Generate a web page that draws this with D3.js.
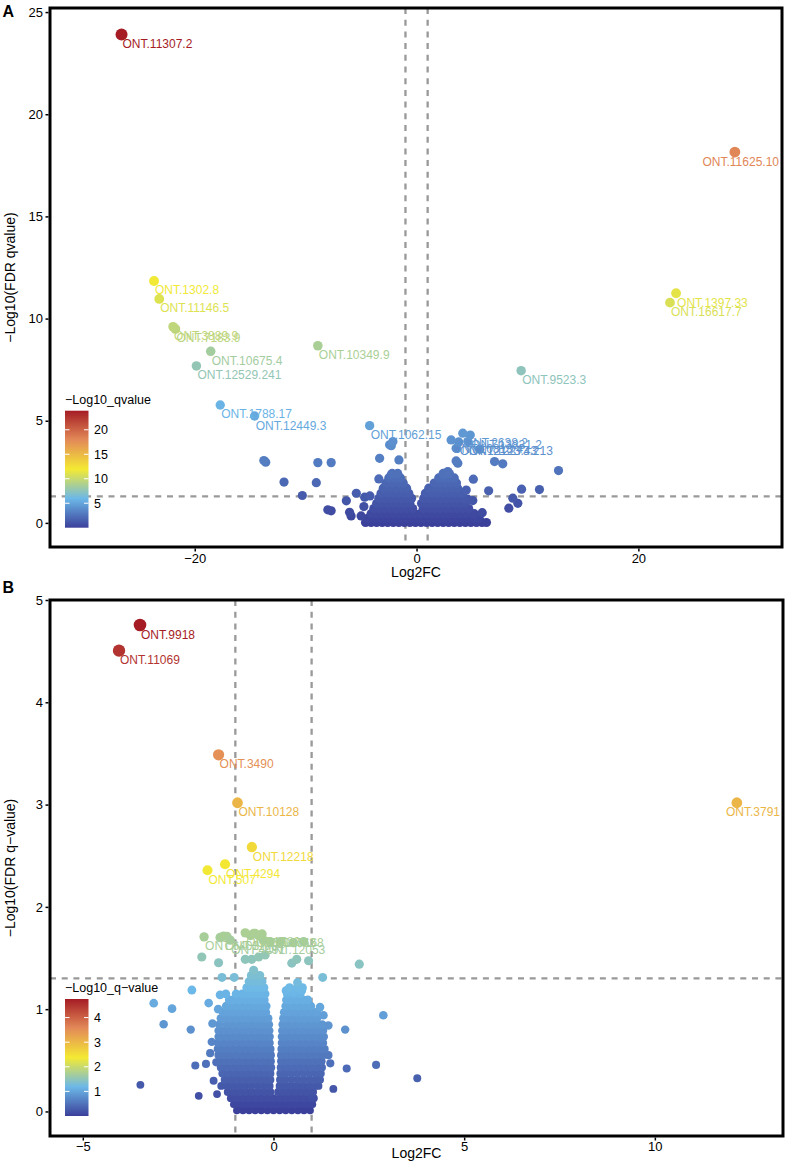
<!DOCTYPE html>
<html><head><meta charset="utf-8">
<script src="https://cdn.jsdelivr.net/npm/d3@7"></script>
<style>body{margin:0;background:#fff} svg text{font-family:"Liberation Sans",Arial,Helvetica,sans-serif}</style>
</head><body><svg id="c" width="787" height="1163"></svg>
<script>
// ---------------- DATA ----------------
// Panel A labelled genes
const aLabelNames = ["ONT.11307.2","ONT.11625.10","ONT.1397.33","ONT.16617.7","ONT.1302.8","ONT.11146.5","ONT.3889.9","ONT.7183.9","ONT.10675.4","ONT.12529.241","ONT.10349.9","ONT.9523.3","ONT.1788.17","ONT.12449.3","ONT.1062.15","ONT.2638.2","ONT.13831.2","ONT.10813.4","ONT.12123.43","ONT.12273.213"];
const aLabelX = [-26.6,28.7,23.4,22.85,-23.67,-23.2,-21.95,-21.74,-18.56,-19.85,-8.9,9.43,-17.7,-14.6,-4.23,4.17,4.84,3.12,3.8,4.62];
const aLabelY = [23.9,18.15,11.24,10.78,11.84,10.96,9.6,9.49,8.4,7.68,8.67,7.45,5.77,5.23,4.76,4.39,4.3,4.06,3.96,3.98];
// Panel A scattered unlabelled genes [log2FC, -log10 q]
const aPoints = [[-13.77,3.05],[-13.6,2.97],[-8.9,2.95],[-7.7,2.95],[-11.95,2.0],[-9.04,1.97],[-10.3,1.34],[-8.0,0.64],[-7.7,0.59],[-6.33,1.08],[-5.43,1.45],[-6.04,0.52],[-5.9,0.34],[-5.0,0.34],[-4.68,1.26],[-4.2,1.32],[-4.75,0.8],[-3.33,3.16],[-3.4,2.15],[-2.28,3.78],[-2.13,3.98],[-2.28,2.35],[-2.43,3.82],[-1.59,3.08],
 [3.57,3.65],[3.57,3.03],[3.72,2.92],[7.03,3.0],[7.77,2.89],[12.8,2.56],[11.08,1.63],[9.47,1.65],[5.12,2.14],[6.5,1.57],[8.68,1.21],[9.13,0.96],[8.32,0.72],[5.92,0.5],[5.38,0.28],[4.48,1.61],[4.62,1.16],[5.07,1.09],[4.17,1.45],[2.82,2.51],[2.52,2.35],[2.97,2.4],[5.68,3.6]];
// Panel A dense cloud, rows of [-log10 q, [log2FC ...]]
const aCloudRows = [
 [0.02,[-4.6,-4.1,-3.6,-3.1,-2.6,-2.1,-1.6,-1.1,-0.6,-0.1,0.4,0.9,1.4,1.9,2.4,2.9,3.4,3.9,4.4,4.9,5.4,5.9,6.3]],
 [0.22,[-4.4,-3.85,-3.35,-2.85,-2.35,-1.85,-1.35,-0.85,-0.35,0.15,0.65,1.15,1.65,2.15,2.65,3.15,3.65,4.15,4.65,5.15,5.65]],
 [0.45,[-4.1,-3.6,-3.1,-2.6,-2.1,-1.6,-1.1,-0.6,-0.15,0.35,0.9,1.4,1.9,2.4,2.9,3.4,3.9,4.4,4.9,5.2]],
 [0.7,[-3.85,-3.35,-2.85,-2.35,-1.85,-1.35,-0.85,-0.35,0.6,1.15,1.65,2.15,2.65,3.15,3.65,4.15,4.7]],
 [0.95,[-3.6,-3.1,-2.6,-2.1,-1.6,-1.1,-0.6,0.45,0.9,1.4,1.9,2.4,2.9,3.4,3.9,4.4]],
 [1.2,[-3.4,-2.85,-2.35,-1.85,-1.35,-0.85,-0.45,0.65,1.15,1.65,2.15,2.65,3.15,3.65,4.2]],
 [1.45,[-3.2,-2.6,-2.1,-1.6,-1.1,-0.7,0.8,1.4,1.9,2.4,2.9,3.4,3.9]],
 [1.7,[-3.0,-2.45,-1.85,-1.35,-0.9,1.1,1.65,2.15,2.65,3.15,3.7]],
 [1.95,[-2.75,-2.2,-1.6,-1.2,1.6,2.1,2.6,3.1,3.6]],
 [2.2,[-2.5,-1.95,-1.45,2.0,2.5,3.0,3.4]],
 [2.42,[-2.2,-1.7,2.4,2.9]]
];

// Panel B labelled genes
const bLabelNames = ["ONT.9918","ONT.11069","ONT.3490","ONT.10128","ONT.12218","ONT.4294","ONT.507","ONT.3791","ONT.6403","ONT.11094","ONT.1582","ONT.11763","ONT.4491","ONT.10168","ONT.12053"];
const bLabelX = [-3.5,-4.05,-1.44,-0.944,-0.567,-1.27,-1.73,12.15,-1.82,-1.31,-0.74,-0.48,-1.135,-0.3,-0.26];
const bLabelY = [4.755,4.505,3.487,3.018,2.585,2.417,2.358,3.018,1.707,1.714,1.746,1.74,1.675,1.735,1.675];
// Panel B scattered unlabelled genes
const bPoints = [[-1.4,1.70],[-1.22,1.71],[-0.52,1.74],[-0.39,1.72],[-0.09,1.66],[0.18,1.66],[0.52,1.65],[0.79,1.66],[-0.6,1.72],
 [-1.88,1.51],[-1.44,1.454],[-0.74,1.487],[-0.57,1.487],[-0.39,1.51],[-0.22,1.53],[0.48,1.45],[0.61,1.487],[0.92,1.473],[2.25,1.44],
 [-1.35,1.31],[-1.03,1.31],[1.29,1.31],[-2.14,1.187],[0.63,1.26],[0.74,1.18],[0.33,1.18],[-0.52,1.38],
 [-3.49,0.26],[-3.14,1.058],[-2.66,1.005],[-2.88,0.853],[-2.17,0.80],[-2.05,0.45],[-1.77,0.465],[-1.96,0.153],[-1.48,0.17],[-1.57,0.30],[-1.37,0.25],[-1.66,0.57],[-1.5,0.48],[-1.6,0.86],[-1.7,1.06],[-1.4,1.14],[-1.62,0.68],[-1.45,1.0],[-1.25,1.15],
 [1.57,0.22],[1.92,0.42],[1.88,0.80],[2.69,0.455],[2.88,0.94],[1.31,0.94],[1.44,0.84],[1.44,0.55],[1.49,0.47],[1.22,1.02],[1.27,0.71],[1.0,0.15],[3.77,0.325],[0.52,1.17]];
// Panel B dense cloud rows
const bCloudRows = [
 [0.01,[-0.96,-0.8,-0.64,-0.48,-0.32,-0.16,0,0.16,0.32,0.48,0.64,0.8,0.96]],
 [0.07,[-1.04,-0.88,-0.72,-0.56,-0.4,-0.24,-0.08,0.08,0.24,0.4,0.56,0.72,0.88,1.02]],
 [0.13,[-1.12,-0.96,-0.8,-0.64,-0.48,-0.32,-0.16,0,0.16,0.32,0.48,0.64,0.8,0.96,1.06]],
 [0.19,[-1.2,-1.04,-0.88,-0.72,-0.56,-0.4,-0.24,-0.08,0.12,0.24,0.4,0.56,0.72,0.88,1.04]],
 [0.25,[-1.22,-1.06,-0.9,-0.74,-0.58,-0.42,-0.26,-0.1,0.16,0.3,0.46,0.62,0.78,0.94,1.1,1.18]],
 [0.31,[-1.28,-1.12,-0.96,-0.8,-0.64,-0.48,-0.32,-0.18,-0.08,0.17,0.32,0.48,0.64,0.8,0.96,1.12,1.22]],
 [0.37,[-1.34,-1.18,-1.02,-0.86,-0.7,-0.54,-0.38,-0.22,-0.08,0.18,0.3,0.46,0.62,0.78,0.94,1.1,1.24]],
 [0.43,[-1.38,-1.22,-1.06,-0.9,-0.74,-0.58,-0.42,-0.26,-0.14,-0.06,0.19,0.34,0.5,0.66,0.82,0.98,1.14,1.27]],
 [0.49,[-1.42,-1.26,-1.1,-0.94,-0.78,-0.62,-0.46,-0.3,-0.18,-0.07,0.2,0.3,0.46,0.62,0.78,0.94,1.1,1.26]],
 [0.55,[-1.44,-1.3,-1.14,-0.98,-0.82,-0.66,-0.5,-0.34,-0.2,-0.07,0.2,0.34,0.5,0.66,0.82,0.98,1.14,1.3]],
 [0.61,[-1.46,-1.38,-1.22,-1.06,-0.9,-0.74,-0.58,-0.42,-0.28,-0.17,-0.08,0.21,0.3,0.46,0.62,0.78,0.94,1.1,1.26,1.34]],
 [0.67,[-1.46,-1.3,-1.14,-0.98,-0.82,-0.66,-0.5,-0.34,-0.22,-0.1,0.22,0.34,0.5,0.66,0.82,0.98,1.14,1.3]],
 [0.73,[-1.44,-1.38,-1.22,-1.06,-0.9,-0.74,-0.58,-0.42,-0.28,-0.2,-0.1,0.22,0.3,0.46,0.62,0.78,0.94,1.1,1.26,1.32]],
 [0.79,[-1.44,-1.3,-1.14,-0.98,-0.82,-0.66,-0.5,-0.34,-0.22,-0.11,0.23,0.34,0.5,0.66,0.82,0.98,1.14,1.3]],
 [0.85,[-1.42,-1.22,-1.06,-0.9,-0.74,-0.58,-0.42,-0.3,-0.22,-0.12,0.24,0.38,0.54,0.7,0.86,1.02,1.18,1.28]],
 [0.91,[-1.38,-1.3,-1.14,-0.98,-0.82,-0.66,-0.5,-0.36,-0.24,-0.14,0.26,0.34,0.5,0.66,0.82,0.98,1.14]],
 [0.97,[-1.32,-1.22,-1.06,-0.9,-0.74,-0.58,-0.44,-0.3,-0.2,0.28,0.42,0.58,0.74,0.9,1.06,1.14]],
 [1.03,[-1.24,-1.14,-0.98,-0.82,-0.66,-0.5,-0.38,-0.27,-0.19,0.32,0.5,0.66,0.82,0.98]],
 [1.09,[-1.16,-1.06,-0.9,-0.74,-0.58,-0.46,-0.35,-0.24,0.34,0.46,0.62,0.78,0.9]],
 [1.15,[-0.98,-0.82,-0.66,-0.54,-0.42,-0.3,-0.22,0.36,0.54,0.7]],
 [1.21,[-0.7,-0.58,-0.46,-0.35,-0.25,0.42,0.62,0.76]],
 [1.27,[-0.64,-0.52,-0.4,-0.3]],
 [1.33,[-0.58,-0.46,-0.36]]
];

// axis ticks / texts
const aXTicks = [-20,0,20];
const aYTicks = [0,5,10,15,20,25];
const aLegendTicks = [5,10,15,20];
const bXTicks = [-5,0,5,10];
const bYTicks = [0,1,2,3,4,5];
const bLegendTicks = [1,2,3,4];
const palette = ["#3B409A","#6CB8E8","#F4EA33","#E38A58","#A51C24"];

// ---------------- DRAW ----------------
const svg = d3.select("#c");

function drawPanel(cfg){
  const g = svg.append("g");
  const x = d3.scaleLinear().domain(cfg.xd).range([cfg.L, cfg.R]);
  const y = d3.scaleLinear().domain(cfg.yd).range([cfg.B, cfg.T]);
  let pts = [];
  cfg.cloud.forEach(r => r[1].forEach(v => pts.push({x:v, y:r[0]})));
  cfg.points.forEach(p => pts.push({x:p[0], y:p[1]}));
  const labs = cfg.names.map((n,i)=>({name:n, x:cfg.lx[i], y:cfg.ly[i]}));
  const vmax = d3.max(labs.concat(pts), d=>d.y);
  const color = d3.scaleLinear().domain(palette.map((c,i)=>vmax*i/(palette.length-1))).range(palette).clamp(true);
  const rad = cfg.rad(vmax);

  // reference lines
  const lines = [
    [x(-1), cfg.T, x(-1), cfg.B], [x(1), cfg.T, x(1), cfg.B],
    [cfg.L, y(-Math.log10(0.05)), cfg.R, y(-Math.log10(0.05))]
  ];
  lines.forEach(l => {
    g.append("line").attr("x1",l[0]).attr("y1",l[1]).attr("x2",l[2]).attr("y2",l[3])
     .attr("stroke","#999999").attr("stroke-width",2.3).attr("stroke-dasharray","6,5.7");
  });

  // points
  pts.sort((a,b)=>a.y-b.y);
  g.append("g").selectAll("circle").data(pts).join("circle")
    .attr("cx", d=>x(d.x)).attr("cy", d=>y(d.y)).attr("r", d=>rad(d.y))
    .attr("fill", d=>color(d.y));
  g.append("g").selectAll("circle").data(labs.slice().sort((a,b)=>a.y-b.y)).join("circle")
    .attr("cx", d=>x(d.x)).attr("cy", d=>y(d.y)).attr("r", d=>rad(d.y))
    .attr("fill", d=>color(d.y));
  // labels
  labs.forEach(d => {
    const px = x(d.x), py = y(d.y);
    const t = g.append("text").attr("x", px+1).attr("y", py+13.5)
      .attr("fill", color(d.y)).attr("font-size", 12).text(d.name);
    const w = t.node().getComputedTextLength();
    if (px + 1 + w > cfg.R - 3) t.attr("x", cfg.R - 3 - w);
  });

  // legend (colorbar)
  const gid = "grad" + cfg.id;
  const grad = svg.append("defs").append("linearGradient").attr("id", gid)
    .attr("x1",0).attr("y1",1).attr("x2",0).attr("y2",0);
  palette.forEach((c,i)=>grad.append("stop").attr("offset", i/(palette.length-1)).attr("stop-color", c));
  const lg = g.append("g");
  const cbL = 65, cbW = 23.5, cbB = cfg.cbBottom, cbH = 117;
  const ly = d3.scaleLinear().domain([0, vmax]).range([cbB, cbB - cbH]);
  lg.append("text").attr("x", cbL).attr("y", cbB - cbH - 7).attr("font-size", 12.5).attr("fill","#000").text(cfg.legendTitle);
  lg.append("rect").attr("x", cbL).attr("y", cbB - cbH).attr("width", cbW).attr("height", cbH).attr("fill", `url(#${gid})`);
  cfg.legendTicks.forEach(v => {
    lg.append("line").attr("x1", cbL).attr("x2", cbL+4.5).attr("y1", ly(v)).attr("y2", ly(v)).attr("stroke","#fff").attr("stroke-width",1);
    lg.append("line").attr("x1", cbL+cbW-4.5).attr("x2", cbL+cbW).attr("y1", ly(v)).attr("y2", ly(v)).attr("stroke","#fff").attr("stroke-width",1);
    lg.append("text").attr("x", cbL+cbW+5.5).attr("y", ly(v)).attr("dy","0.36em").attr("font-size", 12.5).attr("fill","#000").text(v);
  });

  // border
  g.append("rect").attr("x", cfg.L).attr("y", cfg.T).attr("width", cfg.R-cfg.L).attr("height", cfg.B-cfg.T)
    .attr("fill","none").attr("stroke","#000").attr("stroke-width",3);

  // axes
  const ya = g.append("g").attr("transform", `translate(${cfg.L-1.5},0)`)
    .call(d3.axisLeft(y).tickValues(cfg.yTicks).tickSize(3).tickPadding(2.5).tickFormat(d3.format("d")));
  ya.select(".domain").remove();
  ya.selectAll("line").attr("stroke","#000").attr("stroke-width",1.5);
  ya.selectAll("text").attr("font-size",13).attr("fill","#000").attr("font-family","Liberation Sans, Arial, sans-serif");
  const xa = g.append("g").attr("transform", `translate(0,${cfg.B+1.5})`)
    .call(d3.axisBottom(x).tickValues(cfg.xTicks).tickSize(3).tickPadding(cfg.xPad).tickFormat(d=>d<0?"\u2212"+Math.abs(d):d));
  xa.select(".domain").remove();
  xa.selectAll("line").attr("stroke","#000").attr("stroke-width",1.5);
  xa.selectAll("text").attr("font-size",13).attr("fill","#000").attr("font-family","Liberation Sans, Arial, sans-serif");

  // axis titles
  g.append("text").attr("x", (cfg.L+cfg.R)/2).attr("y", cfg.xTitleY).attr("text-anchor","middle")
    .attr("font-size",14).attr("fill","#000").text("Log2FC");
  g.append("text").attr("transform", `translate(14.5,${(cfg.T+cfg.B)/2}) rotate(-90)`).attr("text-anchor","middle")
    .attr("font-size",14).attr("fill","#000").text(cfg.yTitle);
  svg.append("text").attr("x", 2.5).attr("y", cfg.tagY).attr("font-size", 16).attr("font-weight","bold").attr("fill","#000").text(cfg.tag);
}

drawPanel({
  id:"A", tag:"A", tagY:17, L:50, R:782, T:8, B:547,
  xd:[-33.05,32.95], yd:[-1.18,25.2],
  names:aLabelNames, lx:aLabelX, ly:aLabelY, points:aPoints, cloud:aCloudRows,
  rad: vmax => (v => 4.6 + 1.4*Math.pow(v/vmax,2)),
  xTicks:aXTicks, yTicks:aYTicks, legendTicks:aLegendTicks,
  legendTitle:"\u2212Log10_qvalue", cbBottom:527.7,
  xPad:2, xTitleY:576.5, yTitle:"\u2212Log10(FDR qvalue)"
});
drawPanel({
  id:"B", tag:"B", tagY:593, L:50, R:783, T:600, B:1136,
  xd:[-5.86,13.36], yd:[-0.24,5.0],
  names:bLabelNames, lx:bLabelX, ly:bLabelY, points:bPoints, cloud:bCloudRows,
  rad: vmax => (v => 3.8 + 2.5*(v/vmax)),
  xTicks:bXTicks, yTicks:bYTicks, legendTicks:bLegendTicks,
  legendTitle:"\u2212Log10_q\u2212value", cbBottom:1116,
  xPad:1, xTitleY:1158, yTitle:"\u2212Log10(FDR q\u2212value)"
});
</script></body></html>
